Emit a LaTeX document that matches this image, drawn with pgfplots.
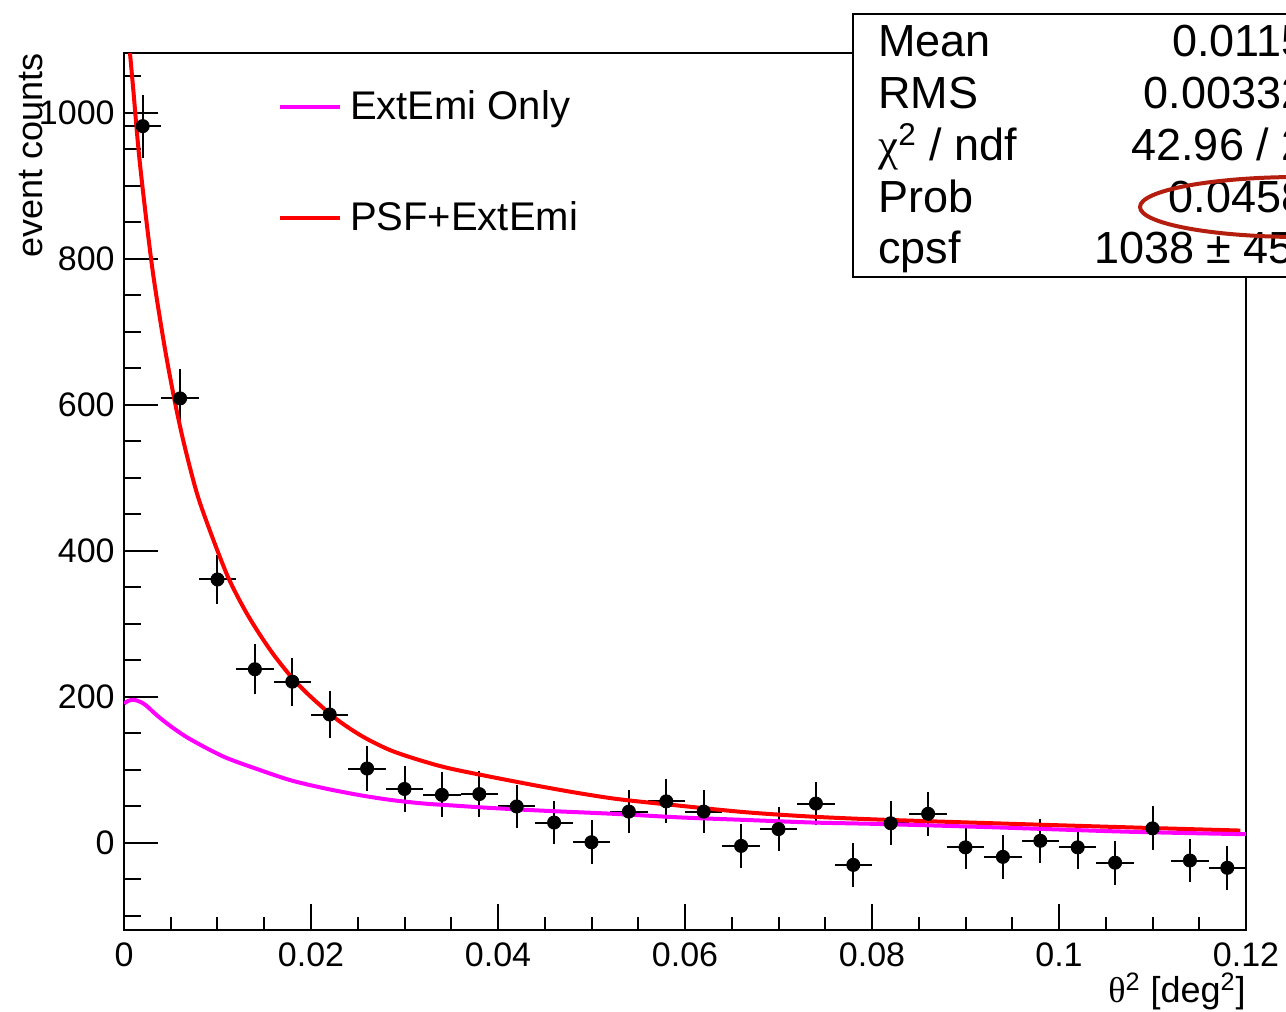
\documentclass[border=0pt]{standalone}
\usepackage{fontspec}
\setmainfont{Liberation Sans}
\newfontfamily\serifgreek{Liberation Serif}
\usepackage{pgfplots}
\usepackage{pgfplotstable}
\pgfplotsset{compat=1.18}
\definecolor{ellred}{RGB}{180,30,15}
\definecolor{rootred}{RGB}{255,0,0}
\definecolor{rootmag}{RGB}{255,0,255}

\pgfplotstableread{
x y ex ey
0.002 982 0.002 43
0.006 609 0.002 40
0.010 361 0.002 34
0.014 238 0.002 34
0.018 221 0.002 33
0.022 176 0.002 32
0.026 102 0.002 31
0.030 74 0.002 31
0.034 66 0.002 31
0.038 67 0.002 31
0.042 50 0.002 30
0.046 28 0.002 30
0.050 1 0.002 30
0.054 43 0.002 30
0.058 57 0.002 30
0.062 43 0.002 30
0.066 -4 0.002 30
0.070 19 0.002 30
0.074 54 0.002 30
0.078 -30 0.002 30
0.082 27 0.002 30
0.086 40 0.002 30
0.090 -6 0.002 30
0.094 -19 0.002 30
0.098 3 0.002 30
0.102 -6 0.002 30
0.106 -27 0.002 30
0.110 20 0.002 30
0.114 -24 0.002 30
0.118 -34 0.002 30
}\datatable

\pgfplotstableread{
x y
0.00064 1082
0.0010 1031
0.0017 931
0.0030 790
0.0043 683
0.0054 607
0.0064 548
0.0078 479
0.0093 424
0.0111 365
0.0128 322
0.0143 290
0.0160 258
0.0180 226
0.0200 200
0.0228 169
0.0255 146
0.0285 127
0.0320 112
0.0356 100
0.0452 76
0.0523 61
0.0595 51
0.0666 42
0.0737 36
0.0809 32
0.0930 27
0.1072 21.5
0.1194 17
}\redcurve

\pgfplotstableread{
x y
0.0000 191
0.0005 195
0.0011 196
0.0018 193
0.0024 188
0.0036 174
0.0052 158
0.0071 142
0.0107 118
0.0143 101
0.0178 86
0.0214 75
0.0250 66
0.0285 59
0.0321 54
0.0356 51
0.0392 48
0.0452 44
0.0523 40
0.0595 35
0.0666 31.5
0.0737 28
0.0809 26
0.0930 21.5
0.1072 15.5
0.1200 12
}\magcurve

\begin{document}
\begin{tikzpicture}
\begin{axis}[
  name=ax,
  at={(0,0)}, anchor=south west,
  width=561pt, height=438.5pt, scale only axis,
  xmin=0, xmax=0.12, ymin=-119.2, ymax=1082.2,
  axis line style={line width=1pt},
  tick align=inside,
  xtick pos=bottom, ytick pos=left,
  xtick={0,0.02,0.04,0.06,0.08,0.1,0.12},
  xticklabels={0,0.02,0.04,0.06,0.08,0.1,0.12},
  minor xtick={0.005,0.01,0.015,0.025,0.03,0.035,0.045,0.05,0.055,0.065,0.07,0.075,0.085,0.09,0.095,0.105,0.11,0.115},
  ytick={0,200,400,600,800,1000},
  yticklabels={0,200,400,600,800,1000},
  minor ytick={-100,-50,50,100,150,250,300,350,450,500,550,650,700,750,850,900,950,1050},
  major tick style={line width=1pt, black},
  minor tick style={line width=1pt, black},
  major x tick style={/pgfplots/major tick length=13.2pt},
  minor x tick style={/pgfplots/minor tick length=6.6pt},
  major y tick style={/pgfplots/major tick length=16.8pt},
  minor y tick style={/pgfplots/minor tick length=8.4pt},
  ticklabel style={font=\fontsize{17}{20}\selectfont},
  xticklabel style={inner sep=0pt, yshift=-6pt},
  yticklabel style={inner sep=0pt, xshift=-4.5pt},
  scaled ticks=false,
  xlabel={{\serifgreek θ}\textsuperscript{2} [deg\textsuperscript{2}]},
  xlabel style={at={(rel axis cs:1,0)}, anchor=base east, yshift=-36.5pt, font=\fontsize{18}{21}\selectfont, inner sep=0pt},
  legend style={at={(rel axis cs:0.1373,0.9567)}, anchor=north west, draw=none, fill=none, inner sep=0pt, outer sep=0pt, row sep=39.5pt, column sep=4pt, font=\fontsize{20}{24}\selectfont, nodes={inner sep=0pt}},
  legend cell align=left,
  legend image code/.code={\draw[#1] (0pt,0pt) -- (30pt,0pt);},
]
\addlegendimage{rootmag, line width=2pt}
\addlegendentry{ExtEmi Only}
\addlegendimage{rootred, line width=2pt}
\addlegendentry{PSF+ExtEmi}

\addplot[forget plot, only marks, mark=*, mark size=3.3pt, black,
  error bars/.cd, x dir=both, x explicit, y dir=both, y explicit,
  error bar style={line width=1pt, black}, error mark=none]
  table[x=x, y=y, x error=ex, y error=ey] {\datatable};
\addplot[forget plot, rootred, line width=2pt, smooth] table[x=x, y=y] {\redcurve};
\addplot[forget plot, rootmag, line width=2pt, smooth] table[x=x, y=y] {\magcurve};
\end{axis}

\node[font=\fontsize{18}{21}\selectfont, rotate=90, anchor=base east, inner sep=0pt] at ([xshift=-40.5pt]ax.north west) {event counts};

\begin{scope}[shift={(-62pt,465pt)}, x=0.5pt, y=-0.5pt]
  \draw[fill=white, line width=1pt] (853,14) rectangle (1360,277);
  \begin{scope}[every node/.style={font=\fontsize{22.5}{26}\selectfont, inner sep=0pt}]
    \node[anchor=base west] at (878,57) {Mean};
    \node[anchor=base west] at (878,109) {RMS};
    \node[anchor=base west] at (878,161) {{\serifgreek χ}\textsuperscript{2} / ndf};
    \node[anchor=base west] at (878,213) {Prob};
    \node[anchor=base west] at (878,264) {cpsf};
    \node[anchor=base east] at (1332,57) {0.01152};
    \node[anchor=base east] at (1332,109) {0.003324};
    \node[anchor=base east] at (1332,161) {42.96 / 29};
    \node[anchor=base east] at (1332,213) {0.04582};
    \node[anchor=base east] at (1332,264) {1038 ± 45.5};
  \end{scope}
  \draw[ellred, line width=2pt] (1300,207) ellipse [x radius=160, y radius=30];
\end{scope}

\pgfresetboundingbox
\path[use as bounding box] (-62pt,-41pt) rectangle (581pt,465pt);
\end{tikzpicture}
\end{document}
